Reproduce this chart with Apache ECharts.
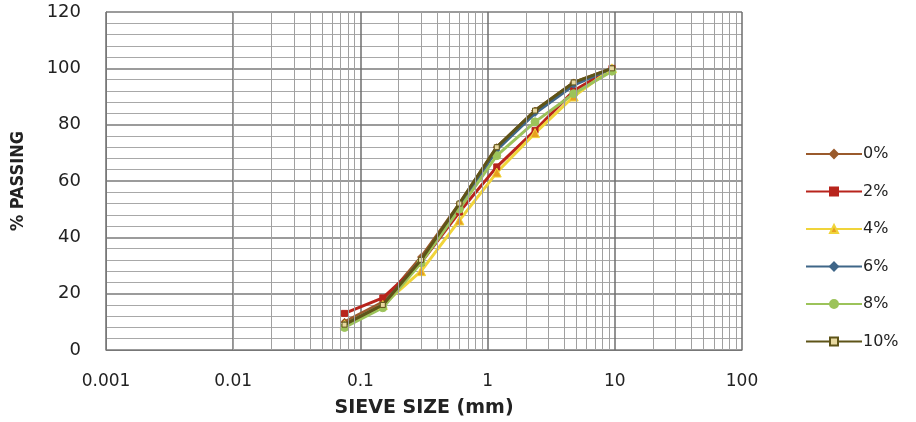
<!DOCTYPE html>
<html>
<head>
<meta charset="utf-8">
<script src="https://cdn.jsdelivr.net/npm/echarts@6/dist/echarts.min.js"></script>
<style>
  html, body { margin: 0; padding: 0; background: #fff; }
  #chart { width: 916px; height: 422px; }
</style>
</head>
<body>
<div id="chart"></div>
<script>
// sieve sizes (mm) and % passing per additive content
const sieveSizes = [0.075, 0.15, 0.3, 0.6, 1.18, 2.36, 4.75, 9.5];
const pass0 = [10, 17, 33, 52, 72, 85, 95, 100];
const pass2 = [13, 18.5, 31, 49, 65, 78, 92, 100];
const pass4 = [9, 16, 28, 46, 63, 77, 90, 100];
const pass6 = [9, 16, 32, 51, 71, 84, 94, 100];
const pass8 = [8, 15, 31, 50, 69, 81, 91, 99];
const pass10 = [9, 16, 32, 52, 72, 85, 95, 100];
const seriesNames = ['0%', '2%', '4%', '6%', '8%', '10%'];

// minor log gridlines 2..9 in each decade
const minorX = [];
[0.001, 0.01, 0.1, 1, 10].forEach(d => {
  for (let k = 2; k <= 9; k++) minorX.push(+(d * k).toPrecision(3));
});

const chart = echarts.init(document.getElementById('chart'));

const pts = arr => sieveSizes.map((s, i) => [s, arr[i]]);

const mk = (name, data, color, symbol, size, fill, z) => ({
  name,
  type: 'line',
  data: pts(data),
  symbol,
  symbolSize: size,
  z,
  lineStyle: { color, width: 3 },
  itemStyle: { color: fill, borderColor: color, borderWidth: 1 },
  emphasis: { disabled: true },
});

const option = {
  animation: false,
  grid: { left: 106, right: 174, top: 12, bottom: 72, outerBoundsMode: 'none', containLabel: false },
  legend: {
    data: seriesNames,
    orient: 'vertical',
    left: 800,
    top: 141,
    itemWidth: 56,
    itemHeight: 10,
    itemGap: 21.5,
    textStyle: { fontFamily: 'DejaVu Sans', fontSize: 16, color: '#222', padding: [0, 0, 0, -4] },
  },
  xAxis: {
    type: 'log',
    logBase: 10,
    min: 0.001,
    max: 100,
    name: 'SIEVE SIZE (mm)',
    nameLocation: 'middle',
    nameGap: 49,
    nameTextStyle: { fontFamily: 'DejaVu Sans', fontWeight: 'bold', fontSize: 19, color: '#222' },
    axisLine: { lineStyle: { color: '#777', width: 1 } },
    axisTick: { show: false },
    axisLabel: {
      fontFamily: 'DejaVu Sans',
      fontSize: 17,
      color: '#222',
      margin: 23,
      formatter: v => String(v),
    },
    splitLine: { show: true, lineStyle: { color: '#6e6e6e', width: 1.5 } },
  },
  yAxis: {
    type: 'value',
    min: 0,
    max: 120,
    interval: 20,
    name: '% PASSING',
    nameLocation: 'middle',
    nameGap: 79,
    nameTextStyle: { fontFamily: 'DejaVu Sans Condensed', fontWeight: 'bold', fontSize: 18, color: '#222' },
    axisLine: { show: true, lineStyle: { color: '#777', width: 1 } },
    axisTick: { show: false },
    axisLabel: { fontFamily: 'DejaVu Sans', fontSize: 18, color: '#222', margin: 25 },
    splitLine: { show: true, lineStyle: { color: '#7a7a7a', width: 1.5 } },
    minorTick: { show: false, splitNumber: 5 },
    minorSplitLine: { show: true, lineStyle: { color: '#a8a8a8', width: 1 } },
  },
  series: [
    {
      name: 'grid-minor',
      type: 'line',
      data: [],
      silent: true,
      z: 1,
      markLine: {
        silent: true,
        symbol: 'none',
        label: { show: false },
        lineStyle: { color: '#a0a0a0', type: 'solid', width: 1 },
        data: minorX.map(v => ({ xAxis: v })),
        animation: false,
      },
    },
    mk('0%', pass0, '#9a5a2c', 'diamond', 7, '#9a5a2c', 3),
    mk('2%', pass2, '#b8241c', 'rect', 6, '#b8241c', 3),
    mk('4%', pass4, '#f0d43a', 'triangle', 9, '#e8a020', 3),
    mk('6%', pass6, '#3f6688', 'diamond', 6, '#3f6688', 3),
    mk('8%', pass8, '#9cc35a', 'circle', 8, '#9cc35a', 3),
    mk('10%', pass10, '#5e5418', 'rect', 5, '#e8d9a0', 4),
  ],
};

chart.setOption(option);
</script>
</body>
</html>
